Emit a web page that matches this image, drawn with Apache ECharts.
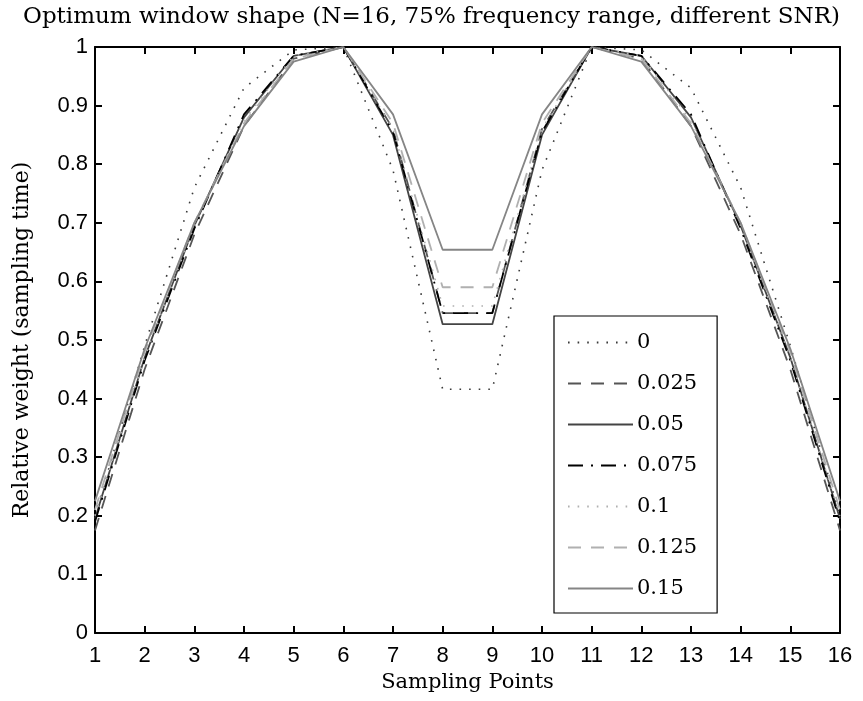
<!DOCTYPE html>
<html><head><meta charset="utf-8">
<script src="https://cdn.jsdelivr.net/npm/echarts@6/dist/echarts.min.js"></script>
<style>html,body{margin:0;padding:0;background:#fff}#c{width:863px;height:701px}</style>
</head><body><div id="c"></div>
<script>
const samplingPoints = [1,2,3,4,5,6,7,8,9,10,11,12,13,14,15,16];
const snrLabels = ['0','0.025','0.05','0.075','0.1','0.125','0.15'];
const snr0     = [0.20,0.49,0.76,0.93,0.995,1,0.79,0.416,0.416,0.79,1,0.995,0.93,0.76,0.49,0.20];
const snr0025  = [0.175,0.45,0.68,0.865,0.98,1,0.86,0.546,0.546,0.86,1,0.98,0.865,0.68,0.45,0.175];
const snr005   = [0.195,0.47,0.695,0.88,0.985,1,0.85,0.527,0.527,0.85,1,0.985,0.88,0.695,0.47,0.195];
const snr0075  = [0.19,0.465,0.69,0.885,0.985,1,0.855,0.546,0.546,0.855,1,0.985,0.885,0.69,0.465,0.19];
const snr01    = [0.20,0.47,0.695,0.875,0.985,1,0.86,0.558,0.558,0.86,1,0.985,0.875,0.695,0.47,0.20];
const snr0125  = [0.21,0.48,0.70,0.87,0.98,1,0.87,0.59,0.59,0.87,1,0.98,0.87,0.70,0.48,0.21];
const snr015   = [0.225,0.485,0.70,0.865,0.975,1,0.885,0.654,0.654,0.885,1,0.975,0.865,0.70,0.485,0.225];
const yTicks = [0,0.1,0.2,0.3,0.4,0.5,0.6,0.7,0.8,0.9,1];

const allValues = [snr0,snr0025,snr005,snr0075,snr01,snr0125,snr015];
const styles = [
  {color:'#3a3a3a', type:[1.6,8], width:1.6},
  {color:'#555555', type:[13,10], width:1.8},
  {color:'#444444', type:'solid', width:1.8},
  {color:'#000000', type:[15,8,2,8], width:1.8},
  {color:'#b0b0b0', type:[1.6,8], width:1.6},
  {color:'#b0b0b0', type:[13,10], width:1.8},
  {color:'#858585', type:'solid', width:1.8}
];
const serif = 'DejaVu Serif';
const sans = 'Liberation Sans';

const series = allValues.map((vals,i)=>({
  name: snrLabels[i],
  type:'line',
  symbol:'none',
  showSymbol:false,
  data: samplingPoints.map((x,j)=>[x, vals[j]]),
  lineStyle:{color:styles[i].color, type:styles[i].type, width:styles[i].width, cap:'butt'},
  itemStyle:{color:styles[i].color},
  animation:false
}));

const frameAxis = {
  axisLine:{show:true, onZero:false, lineStyle:{color:'#000', width:2}},
  splitLine:{show:false}
};

const chart = echarts.init(document.getElementById('c'), null, {renderer:'canvas'});
chart.setOption({
  animation:false,
  backgroundColor:'#fff',
  title:{
    text:'Optimum window shape (N=16, 75% frequency range, different SNR)',
    left:'center', top:1,
    textStyle:{fontFamily:serif, fontSize:23, fontWeight:'normal', color:'#000'}
  },
  grid:{left:95, right:23, top:47, bottom:68, containLabel:false},
  legend:{
    orient:'vertical', left:554, top:316,
    data: snrLabels,
    itemWidth:65, itemHeight:14, itemGap:20,
    padding:[16,20,14,13],
    backgroundColor:'#fff', borderColor:'#000', borderWidth:1.2,
    itemStyle:{opacity:0},
    textStyle:{fontFamily:serif, fontSize:21, color:'#000', padding:[0,0,0,-1]}
  },
  xAxis:[
    Object.assign({}, frameAxis, {
      type:'value', min:1, max:16, interval:1, position:'bottom',
      name:'Sampling Points', nameLocation:'middle', nameGap:37,
      nameTextStyle:{fontFamily:serif, fontSize:21, color:'#000'},
      axisTick:{show:true, inside:true, length:7, lineStyle:{color:'#000', width:2}},
      axisLabel:{fontFamily:sans, fontSize:22, color:'#000', margin:12}
    }),
    Object.assign({}, frameAxis, {
      type:'value', min:1, max:16, interval:1, position:'top',
      axisTick:{show:true, inside:true, length:7, lineStyle:{color:'#000', width:2}},
      axisLabel:{show:false}
    })
  ],
  yAxis:[
    Object.assign({}, frameAxis, {
      type:'value', min:0, max:1, interval:0.1, position:'left',
      name:'Relative weight (sampling time)', nameLocation:'middle', nameGap:62,
      nameTextStyle:{fontFamily:serif, fontSize:22, color:'#000'},
      axisTick:{show:true, inside:true, length:7, lineStyle:{color:'#000', width:2}},
      axisLabel:{fontFamily:sans, fontSize:22, color:'#000', margin:7,
        formatter:(v)=>{ const t = yTicks.find(k=>Math.abs(k-v)<1e-6); return t===undefined? '' : String(t); }}
    }),
    Object.assign({}, frameAxis, {
      type:'value', min:0, max:1, interval:0.1, position:'right',
      axisTick:{show:true, inside:true, length:7, lineStyle:{color:'#000', width:2}},
      axisLabel:{show:false}
    })
  ],
  series: series
});
</script>
</body></html>
